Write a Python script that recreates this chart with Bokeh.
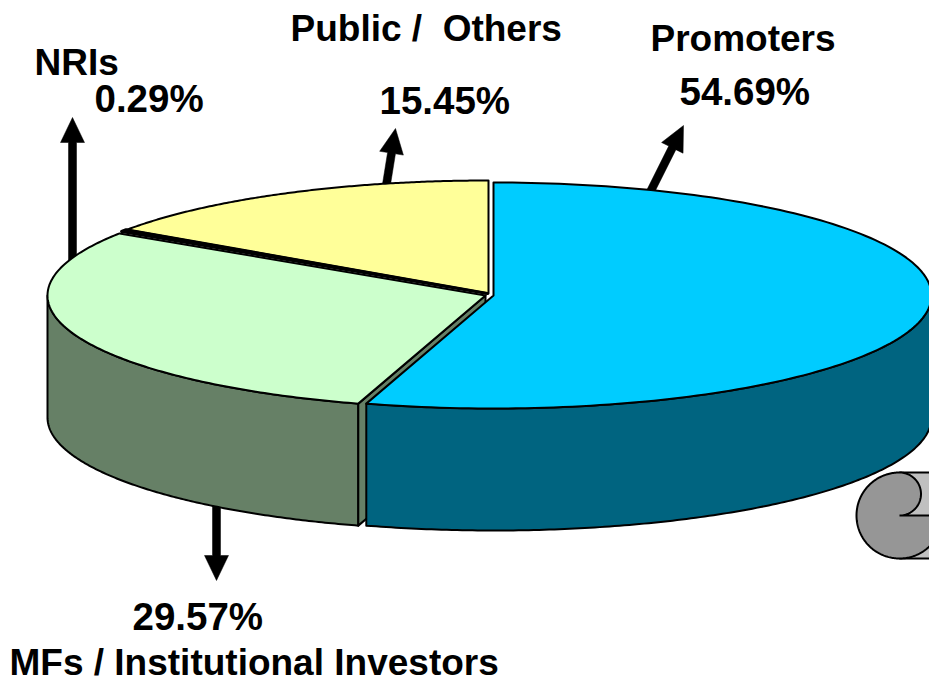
import numpy as np
from bokeh.plotting import figure
from bokeh.models import Range1d
from bokeh.core.properties import value
from bokeh.embed import file_html
from bokeh.resources import INLINE

# ---- data (pie order: clockwise from 12 o'clock)
names = ["Promoters", "MFs / Institutional Investors", "NRIs", "Public /\u00a0 Others"]
shares = [54.69, 29.57, 0.29, 15.45]
share_labels = ["54.69%", "29.57%", "0.29%", "15.45%"]

top_colors = ["#00CCFF", "#CCFFCC", "#800000", "#FFFF99"]
wall_colors = ["#006480", "#668066"]

W, H = 929, 678
p = figure(width=W, height=H, output_backend="svg", toolbar_location=None,
           x_range=Range1d(0, W), y_range=Range1d(H, 0),
           min_border=0, outline_line_color=None, background_fill_color="white",
           border_fill_color="white")
p.axis.visible = False
p.grid.visible = False

RX, RY, DEPTH = 438, 113, 122
centers = [(493, 295), (485, 295), (487, 293), (488, 293)]
edges = np.cumsum([0] + shares) / sum(shares) * 360


def rim(c, a, b, n=160):
    t = np.radians(np.linspace(a, b, n))
    return c[0] + RX * np.sin(t), c[1] - RY * np.cos(t)


def arrow(x0, y0, x1, y1, head=25, hw=12, sw=4):
    d = np.array([x1 - x0, y1 - y0], float)
    L = np.hypot(*d)
    u = d / L
    n = np.array([-u[1], u[0]])
    s = np.array([x0, y0], float)
    e = np.array([x1, y1], float)
    b = e - u * head
    pts = [s + n * sw, b + n * sw, b + n * hw, e, b - n * hw, b - n * sw, s - n * sw]
    p.patch([q[0] for q in pts], [q[1] for q in pts], fill_color="black", line_color="black", line_width=0.5)


# leader arrows (behind the pie)
arrow(72, 262, 72, 117)
arrow(385, 190, 395, 128)
arrow(648, 195, 683, 125)
arrow(216, 500, 216, 580)

# scroll ornament, bottom right
SC = (899, 515)
p.patch([SC[0], 990, 990, SC[0]], [472, 472, 558, 558], fill_color="#C0C0C0", line_color="black", line_width=2)
small = np.radians(np.linspace(0, 180, 60))
big = np.radians(np.linspace(90, 360, 200))
sx = np.r_[SC[0] + 21.5 * np.sin(small), SC[0] + 43 * np.sin(big)]
sy = np.r_[493.5 - 21.5 * np.cos(small), SC[1] - 43 * np.cos(big)]
p.patch(sx, sy, fill_color="#969696", line_color="black", line_width=2)

# walls: green side first, then its cut face, then the blue side
gx, gy = rim(centers[1], edges[1], 270)
p.patch(np.r_[gx, gx[::-1]], np.r_[gy, gy[::-1] + DEPTH], fill_color=wall_colors[1],
        line_color="black", line_width=2, line_join="round")
ex, ey = rim(centers[1], edges[1], edges[1], 1)
c = centers[1]
p.patch([ex[0], c[0], c[0], ex[0]], [ey[0], c[1], c[1] + DEPTH, ey[0] + DEPTH],
        fill_color=wall_colors[1], line_color="black", line_width=2, line_join="round")
bx, by = rim(centers[0], 90, edges[1])
p.patch(np.r_[bx, bx[::-1]], np.r_[by, by[::-1] + DEPTH], fill_color=wall_colors[0],
        line_color="black", line_width=2, line_join="round")

# tops
for i in [3, 1, 2, 0]:
    c = centers[i]
    x, y = rim(c, edges[i], edges[i + 1])
    p.patch(np.r_[c[0], x], np.r_[c[1], y], fill_color=top_colors[i], line_color="black",
            line_width=3 if i == 2 else 2, line_join="round")

# labels
lab_x = [650, 9, 34, 290]
lab_y = [38, 662, 62, 28]
val_x = [679, 132, 94, 379]
val_y = [91, 616, 98, 100]
kw = dict(text_font=value("Liberation Sans"), text_font_style="bold",
          text_color="black", text_align="left", text_baseline="alphabetic")
p.text(lab_x, lab_y, text=names, text_font_size="37px", **kw)
p.text(val_x, val_y, text=share_labels, text_font_size="38.5px", **kw)

open("out.html", "w").write(file_html(p, INLINE))
